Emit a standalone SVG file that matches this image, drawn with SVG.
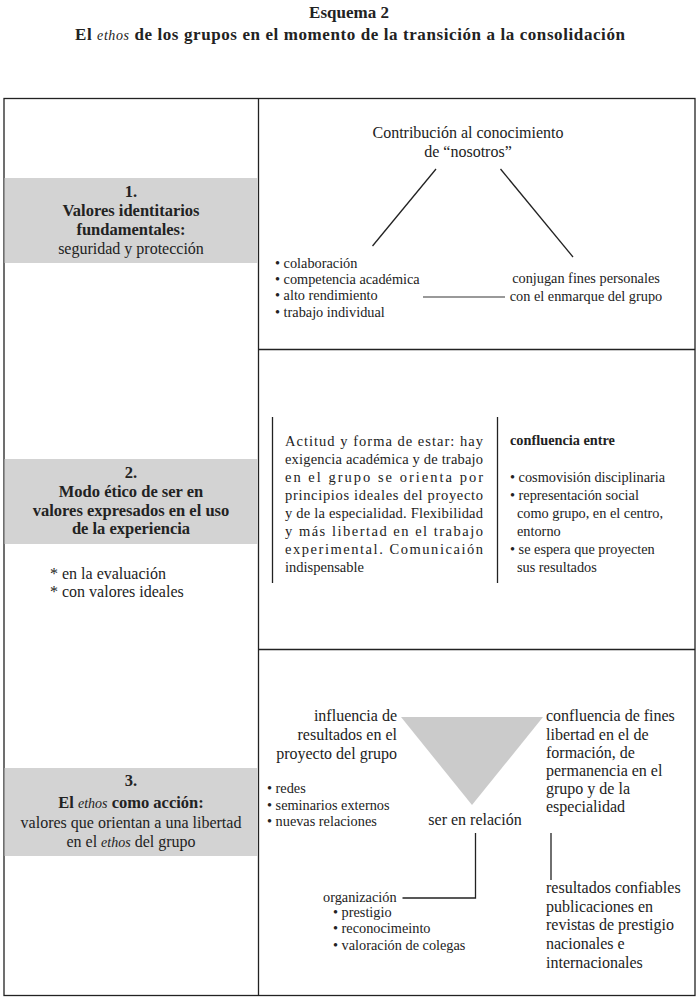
<svg xmlns="http://www.w3.org/2000/svg" width="699" height="1004" viewBox="0 0 699 1004">
<style>
text{font-family:"Liberation Serif","DejaVu Serif",serif;fill:#222;}
.t{font-size:17px;font-weight:bold;}
.h{font-size:16.5px;font-weight:bold;}
.n{font-size:16px;}
.p{font-size:14.5px;}
.s{font-size:14.3px;}
.x{font-size:14.3px;}
.c{text-anchor:middle;}
.r{text-anchor:end;}
.gray{fill:#d3d3d3;}
.ln{stroke:#222;stroke-width:1.3;fill:none;}
</style>
<rect width="699" height="1004" fill="#fff"/>
<g id="title">
<text class="t c" x="349" y="18">Esquema 2</text>
<text class="t" x="75" y="40" textLength="550" lengthAdjust="spacing">El <tspan font-style="italic" font-weight="normal" font-size="14px">ethos</tspan> de los grupos en el momento de la transición a la consolidación</text>
</g>
<g id="frame">
<rect x="4" y="98.5" width="691" height="897" class="ln"/>
<line x1="258.5" y1="98.5" x2="258.5" y2="995.5" class="ln"/>
<line x1="258.5" y1="349.5" x2="695" y2="349.5" class="ln"/>
<line x1="258.5" y1="649.5" x2="695" y2="649.5" class="ln"/>
</g>
<g id="box1">
<rect x="4.6" y="178" width="253.3" height="85" class="gray"/>
<text class="h c" x="131" y="197">1.</text>
<text class="h c" x="131" y="216">Valores identitarios</text>
<text class="h c" x="131" y="235">fundamentales:</text>
<text class="n c" x="131" y="254">seguridad y protección</text>
</g>
<g id="box2">
<rect x="4.6" y="459" width="253.3" height="85" class="gray"/>
<text class="h c" x="131" y="478">2.</text>
<text class="h c" x="131" y="497">Modo ético de ser en</text>
<text class="h c" x="131" y="516">valores expresados en el uso</text>
<text class="h c" x="131" y="534">de la experiencia</text>
<text class="n" x="50" y="579">* en la evaluación</text>
<text class="n" x="50" y="597">* con valores ideales</text>
</g>
<g id="box3">
<rect x="4.6" y="768" width="253.3" height="88" class="gray"/>
<text class="h c" x="131" y="786">3.</text>
<text class="h c" x="131" y="808">El <tspan font-style="italic" font-weight="normal" font-size="14px">ethos</tspan> como acción:</text>
<text class="n c" x="131" y="828">valores que orientan a una libertad</text>
<text class="n c" x="131" y="847">en el <tspan font-style="italic" font-size="14px">ethos</tspan> del grupo</text>
</g>
<g id="contribucion">
<text class="n c" x="468" y="138">Contribución al conocimiento</text>
<text class="n c" x="468" y="157">de “nosotros”</text>
</g>
<g id="valores1">
<text class="s" x="275" y="268">• colaboración</text>
<text class="s" x="275" y="284">• competencia académica</text>
<text class="s" x="275" y="300">• alto rendimiento</text>
<text class="s" x="275" y="317">• trabajo individual</text>
</g>
<g id="conjugan">
<text class="s c" x="586" y="283">conjugan fines personales</text>
<text class="s c" x="586" y="301">con el enmarque del grupo</text>
</g>
<g id="actitud">
<line x1="272.5" y1="417" x2="272.5" y2="583" class="ln"/>
<text class="p" x="285" y="446" textLength="198" lengthAdjust="spacing">Actitud y forma de estar: hay</text>
<text class="p" x="285" y="464" textLength="198" lengthAdjust="spacing">exigencia académica y de trabajo</text>
<text class="p" x="285" y="482" textLength="198" lengthAdjust="spacing">en el grupo se orienta por</text>
<text class="p" x="285" y="500" textLength="198" lengthAdjust="spacing">principios ideales del proyecto</text>
<text class="p" x="285" y="518" textLength="198" lengthAdjust="spacing">y de la especialidad. Flexibilidad</text>
<text class="p" x="285" y="536" textLength="198" lengthAdjust="spacing">y más libertad en el trabajo</text>
<text class="p" x="285" y="554" textLength="198" lengthAdjust="spacing">experimental. Comunicaión</text>
<text class="p" x="285" y="572">indispensable</text>
</g>
<g id="confluencia">
<line x1="497.5" y1="417" x2="497.5" y2="583" class="ln"/>
<text class="x" x="510" y="445" font-weight="bold">confluencia entre</text>
<text class="x" x="510" y="482">• cosmovisión disciplinaria</text>
<text class="x" x="510" y="500">• representación social</text>
<text class="x" x="517" y="518">como grupo, en el centro,</text>
<text class="x" x="517" y="536">entorno</text>
<text class="x" x="510" y="554">• se espera que proyecten</text>
<text class="x" x="517" y="572">sus resultados</text>
</g>
<g id="triangulo">
<polygon points="401,717 543,717 472,805" fill="#cbcbcb"/>
</g>
<g id="influencia">
<text class="n r" x="397" y="721">influencia de</text>
<text class="n r" x="397" y="740">resultados en el</text>
<text class="n r" x="397" y="759">proyecto del grupo</text>
</g>
<g id="redes">
<text class="x" x="267" y="793">• redes</text>
<text class="x" x="267" y="810">• seminarios externos</text>
<text class="x" x="267" y="826">• nuevas relaciones</text>
</g>
<g id="ser">
<text class="n c" x="475" y="825">ser en relación</text>
</g>
<g id="fines">
<text class="n" x="546" y="721">confluencia de fines</text>
<text class="n" x="546" y="740">libertad en el de</text>
<text class="n" x="546" y="758">formación, de</text>
<text class="n" x="546" y="776">permanencia en el</text>
<text class="n" x="546" y="794">grupo y de la</text>
<text class="n" x="546" y="812">especialidad</text>
</g>
<g id="organizacion">
<text class="s" x="323" y="902">organización</text>
<text class="s" x="333" y="917">• prestigio</text>
<text class="s" x="333" y="933">• reconocimeinto</text>
<text class="s" x="333" y="950">• valoración de colegas</text>
</g>
<g id="resultados">
<text class="n" x="546" y="893">resultados confiables</text>
<text class="n" x="546" y="912">publicaciones en</text>
<text class="n" x="546" y="930">revistas de prestigio</text>
<text class="n" x="546" y="949">nacionales e</text>
<text class="n" x="546" y="968">internacionales</text>
</g>
<g id="connectors">
<line x1="436" y1="169" x2="372.5" y2="246" class="ln"/>
<line x1="500.5" y1="169" x2="573" y2="257" class="ln"/>
<line x1="423" y1="297" x2="505" y2="297" stroke="#777" stroke-width="1.3"/>
<polyline points="475.5,833 475.5,898 402.5,898" class="ln"/>
<line x1="551" y1="833" x2="551" y2="880" class="ln"/>
</g>
</svg>
